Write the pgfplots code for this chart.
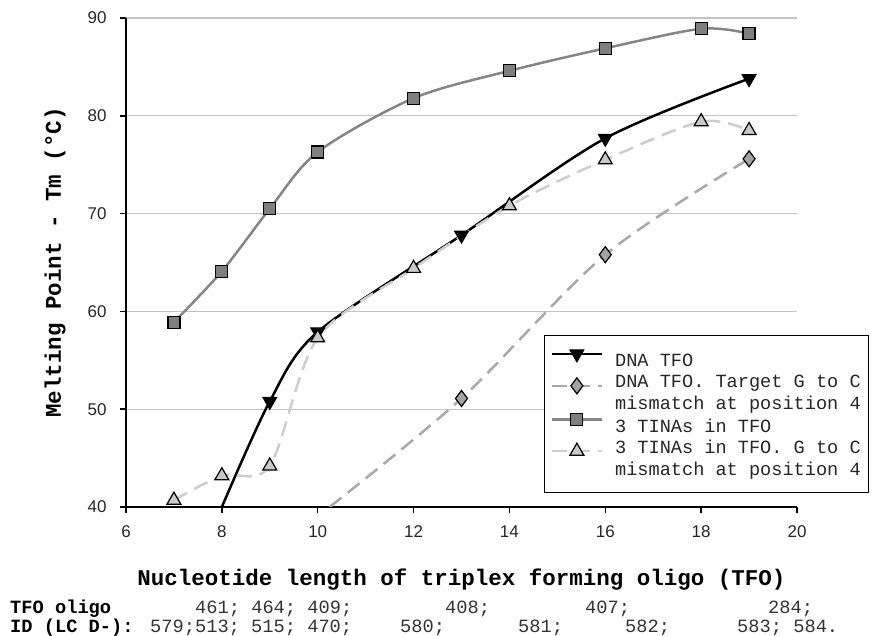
\documentclass[border=0pt]{standalone}
\usepackage{fontspec}
\setmainfont{Liberation Sans}
\setmonofont{Liberation Mono}
\usepackage{pgfplots}
\pgfplotsset{compat=1.18}

\definecolor{sqline}{HTML}{858585}
\definecolor{sqfill}{HTML}{7F7F7F}
\definecolor{dmline}{HTML}{A8A8A8}
\definecolor{dmfill}{HTML}{A3A3A3}
\definecolor{trline}{HTML}{CDCDCD}
\definecolor{trfill}{HTML}{C9C9C9}
\definecolor{gridc}{HTML}{C4C4C4}

\begin{document}
\begin{tikzpicture}[x=1pt,y=1pt]
\useasboundingbox (0,0) rectangle (877,636);
\begin{axis}[
  at={(126pt,129pt)}, anchor=south west,
  scale only axis, width=671pt, height=489pt,
  xmin=6, xmax=20, ymin=40, ymax=90,
  xtick={6,8,...,20}, ytick={40,50,...,90},
  axis x line*=bottom, axis y line*=left,
  axis line style={line width=2.5pt, -},
  tick align=outside, major tick length=6pt,
  tick style={black, line width=1.5pt},
  ymajorgrids, major grid style={gridc, line width=1.3pt},
  /pgf/number format/assume math mode=true,
  ticklabel style={font=\fontsize{17}{19}\selectfont, text=black!85},
  yticklabel style={xshift=-10pt},
  xticklabel style={yshift=-9pt},
  xlabel={\fontsize{22.5}{24}\selectfont\ttfamily\bfseries Nucleotide length of triplex forming oligo (TFO)},
  ylabel={\fontsize{22.5}{24}\selectfont\ttfamily\bfseries Melting Point - Tm (°C)},
  xlabel style={at={(axis description cs:0.5,-0.1493)}, anchor=center},
  ylabel style={at={(axis description cs:-0.1058,0.5)}, anchor=center},
  legend style={at={(0.623,0.352)}, anchor=north west, draw=black, line width=1.2pt,
    font=\ttfamily\fontsize{18.6}{22}\selectfont, text=black!85,
    inner xsep=6pt, inner ysep=14pt, row sep=0pt,
    cells={anchor=base west, align=left, inner ysep=0pt, inner xsep=0pt}},
  legend cell align=left,
  legend image code/.code={\draw[mark repeat=2,mark phase=2,#1] plot coordinates {(0pt,6pt) (25pt,6pt) (50pt,6pt)};
    \path (60pt,6pt);},
]
\addplot[black, line width=2.5pt, smooth, mark=triangle*, mark size=8pt,
  mark options={rotate=180, fill=black, draw=black, line width=1pt, solid},
  mark indices={2,3,4,5,6}, legend image post style={mark indices={2}}]
  coordinates {(8,40) (9,50.8) (10,57.9) (13,67.8) (16,77.7) (19,83.8)};
\addlegendentry{\strut DNA TFO}
\addplot[dmline, line width=2.5pt, smooth, dash pattern=on 15pt off 8pt, mark=diamond*, mark size=8pt,
  mark options={fill=dmfill, draw=black, line width=1.2pt, solid},
  mark indices={2,3,4}, legend image post style={mark indices={2}}]
  coordinates {(10.25,40) (13,51.1) (16,65.8) (19,75.6)};
\addlegendentry{\strut DNA TFO. Target G to C\\\strut mismatch at position 4}
\addplot[sqline, line width=2.5pt, smooth, mark=square*, mark size=6pt,
  mark options={fill=sqfill, draw=black, line width=1.2pt, solid}]
  coordinates {(7,58.9) (8,64.1) (9,70.5) (10,76.3) (12,81.8) (14,84.6) (16,86.9) (18,88.9) (19,88.4)};
\addlegendentry{\strut 3 TINAs in TFO}
\addplot[trline, line width=2.5pt, smooth, dash pattern=on 15pt off 8pt, mark=triangle*, mark size=8pt,
  mark options={fill=trfill, draw=black, line width=1.2pt, solid}]
  coordinates {(7,40.7) (8,43.2) (9,44.2) (10,57.3) (12,64.4) (14,70.8) (16,75.5) (18,79.4) (19,78.5)};
\addlegendentry{\strut 3 TINAs in TFO. G to C\\\strut mismatch at position 4}
\end{axis}
\begin{scope}[every node/.style={anchor=west, inner sep=0pt, font=\ttfamily\fontsize{18.7}{20}\selectfont, text=black!80}]
\node[font=\ttfamily\bfseries\fontsize{18.7}{20}\selectfont, text=black] at (10,27) {TFO oligo};
\node at (195,27) {461; 464; 409;};
\node at (445,27) {408;};
\node at (585,27) {407;};
\node at (768,27) {284;};
\node[font=\ttfamily\bfseries\fontsize{18.7}{20}\selectfont, text=black] at (10,8) {ID (LC D-):};
\node at (150,8) {579;513; 515; 470;};
\node at (400,8) {580;};
\node at (518,8) {581;};
\node at (625,8) {582;};
\node at (737,8) {583; 584.};
\end{scope}
\end{tikzpicture}
\end{document}
